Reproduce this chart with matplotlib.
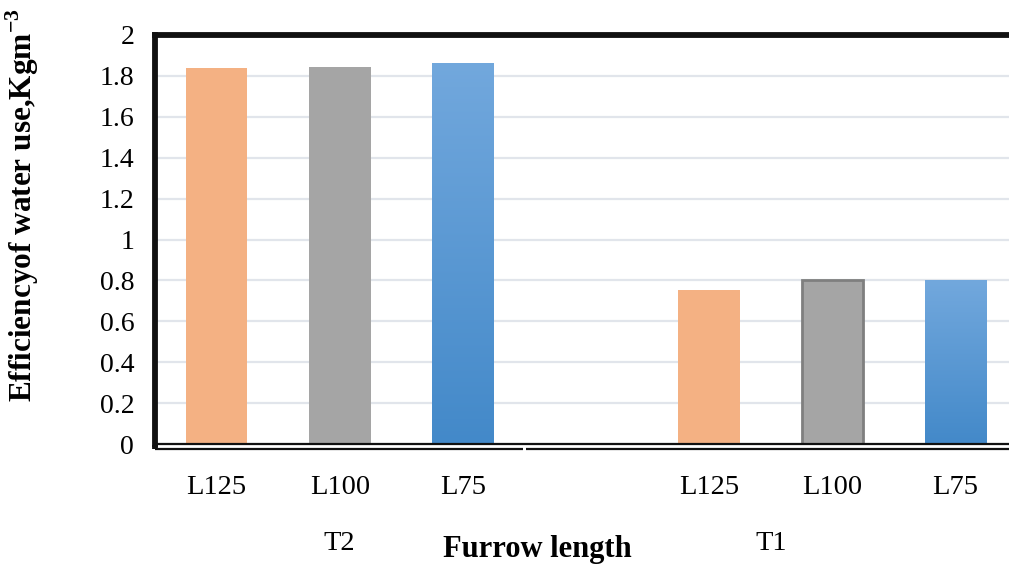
import numpy as np
import matplotlib
matplotlib.use("Agg")
import matplotlib.pyplot as plt
from matplotlib.transforms import blended_transform_factory, offset_copy
from matplotlib.colors import LinearSegmentedColormap

plt.rcParams['font.family'] = ['Liberation Serif', 'DejaVu Serif']
plt.rcParams['mathtext.fontset'] = 'custom'
plt.rcParams['mathtext.rm'] = 'Liberation Serif'
plt.rcParams['mathtext.bf'] = 'Liberation Serif:bold'

# ---- data ----
groups = ["T2", "T1"]
lengths = ["L125", "L100", "L75"]
t2_values = [1.84, 1.845, 1.865]
t1_values = [0.755, 0.80, 0.80]
y_label = r"Efficiencyof water use,Kgm$^{\mathbf{-3}}$"
x_label = "Furrow length"

# slot positions (one empty slot between groups)
t2_pos = [0, 1, 2]
t1_pos = [4, 5, 6]

colors = {"L125": "#F4B183", "L100": "#A5A5A5", "L75": "#5B9BD5"}

W, H = 1009, 566
fig = plt.figure(figsize=(W / 100, H / 100), dpi=100)
ax_l, ax_r, ax_t, ax_b = 155, 1017, 35, 444
ax = fig.add_axes([ax_l / W, (H - ax_b) / H, (ax_r - ax_l) / W, (ax_b - ax_t) / H])
ax.set_xlim(-0.5, 6.5)
ax.set_ylim(0, 2.0)

# gridlines
ax.set_yticks(np.arange(0, 2.01, 0.2))
ax.set_yticklabels(["0", "0.2", "0.4", "0.6", "0.8", "1", "1.2", "1.4", "1.6", "1.8", "2"])
ax.yaxis.grid(True, color="#E1E5EB", linewidth=1.6, zorder=0)
ax.set_axisbelow(True)
ax.tick_params(axis="y", length=0, pad=15, labelsize=20)
ax.tick_params(axis="x", length=0, pad=22, labelsize=20.5)

bar_w = 0.5
gradient = np.linspace(0, 1, 256).reshape(-1, 1)
blue_cmap = LinearSegmentedColormap.from_list("bl", ["#4389C9", "#72A8DD"])

for positions, values in ((t2_pos, t2_values), (t1_pos, t1_values)):
    for p, v, name in zip(positions, values, lengths):
        if name == "L75":
            b = ax.bar(p, v, width=bar_w, color="none", edgecolor="none", zorder=2)[0]
            im = ax.imshow(gradient, cmap=blue_cmap, origin="lower", aspect="auto",
                           extent=(p - bar_w / 2, p + bar_w / 2, 0, v), zorder=2)
            im.set_clip_path(b)
        else:
            ec = "none"
            lw = 0
            if name == "L100" and positions is t1_pos:
                ec = "#7F7F7F"
                lw = 2.0
            ax.bar(p, v, width=bar_w, color=colors[name], edgecolor=ec, linewidth=lw, zorder=2)

ax.set_xlim(-0.5, 6.5)
ax.set_ylim(0, 2.0)

ax.set_xticks(t2_pos + t1_pos)
ax.set_xticklabels(lengths + lengths)

# spines
ax.spines["right"].set_visible(False)
ax.spines["top"].set_linewidth(4.2)
ax.spines["top"].set_color("#111111")
ax.spines["left"].set_linewidth(4.2)
ax.spines["left"].set_color("#111111")
ax.spines["bottom"].set_linewidth(1.6)
ax.spines["bottom"].set_color("#111111")

# category axis line below with break between groups
tr = blended_transform_factory(ax.transData, ax.transAxes)
tr_off = offset_copy(tr, fig=fig, x=0, y=-4.5, units="dots")
ax.plot([-0.5, 2.49], [0, 0], transform=tr_off, color="#111111", lw=1.6, clip_on=False,
        solid_capstyle="butt")
ax.plot([2.51, 6.5], [0, 0], transform=tr_off, color="#111111", lw=1.6, clip_on=False,
        solid_capstyle="butt")
ax.plot([-0.5, -0.5], [0, 0.01], transform=offset_copy(tr, fig=fig, x=0, y=-5, units="dots"),
        color="#111111", lw=4.2, clip_on=False, solid_capstyle="butt")

# group labels
tr_grp = offset_copy(tr, fig=fig, x=0, y=-100, units="dots")
ax.text(np.mean(t2_pos), 0, groups[0], transform=tr_grp, ha="center", va="center", fontsize=20.5)
ax.text(np.mean([3] + t1_pos), 0, groups[1], transform=tr_grp, ha="center", va="center", fontsize=20.5)

fig.text(537 / W, 1 - 549 / H, x_label, ha="center", va="center", fontsize=22, fontweight="bold")
fig.text(22 / W, 1 - 205 / H, y_label, ha="center", va="center", rotation=90,
         fontsize=22.5, fontweight="bold")

fig.savefig("out.png", dpi=100)
